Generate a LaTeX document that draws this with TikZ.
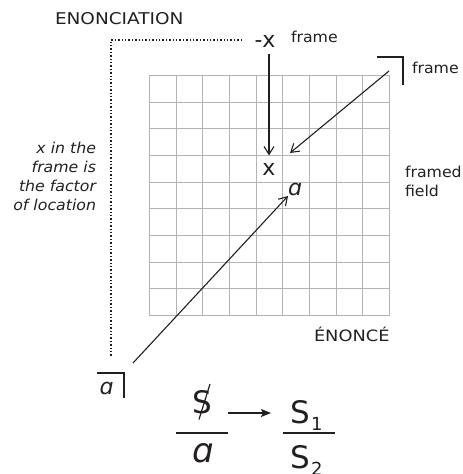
\documentclass[tikz,border=0pt]{standalone}
\usepackage{fontspec}
\setmainfont{DejaVu Sans}[FakeStretch=1.05]
\newfontfamily\capsfont{DejaVu Sans}[FakeStretch=1.14]
\newfontfamily\plainfont{DejaVu Sans}
\usetikzlibrary{arrows.meta,calc}
\definecolor{ink}{HTML}{231F20}
\definecolor{gridgray}{HTML}{B4B4B4}
\begin{document}
\begin{tikzpicture}[x=1pt,y=-1pt,
  every node/.style={inner sep=0pt,outer sep=0pt,text=ink},
  capslbl/.style={font={\capsfont\fontsize{16.2pt}{18pt}\selectfont}},
  smalllbl/.style={font={\fontsize{15pt}{18pt}\selectfont}},
  itallbl/.style={font={\fontsize{15pt}{18pt}\selectfont\itshape}},
  biglbl/.style={font={\plainfont\fontsize{22pt}{24pt}\selectfont}},
  bigital/.style={font={\plainfont\fontsize{22pt}{24pt}\selectfont\itshape}},
  formula/.style={font={\plainfont\fontsize{31pt}{34pt}\selectfont}},
  gridline/.style={draw=gridgray,line width=1.3pt},
  openarrow/.style={draw=ink,line width=1.1pt,-{Straight Barb[length=8pt,width=10pt,line width=1.1pt]}},
  bracket/.style={draw=ink,line width=2pt},
  dotline/.style={draw=ink,line width=1.7pt,dash pattern=on 1.4pt off 2pt}]
\useasboundingbox (0,0) rectangle (463,474);
% grid
\foreach \p in {149.5,176.5,202.5,229.5,256.5,282.5,309.5,336.5,362.5,389.5}{
  \draw[gridline] (\p,75) -- (\p,315);
}
\foreach \q in {75.5,102.5,128.5,155.5,182.5,208.5,235.5,262.5,288.5,315.5}{
  \draw[gridline] (149,\q) -- (390,\q);
}
% labels
\node[capslbl,anchor=base west] (enon) at (55,24) {ENONCIATION};
\node[capslbl,anchor=base east,font={\capsfont\fontsize{15.6pt}{18pt}\selectfont}] (enonce) at (389.5,341) {ÉNONCÉ};
\node[smalllbl,anchor=base west] (frametop) at (291,42) {frame};
\node[smalllbl,anchor=base west] (frameright) at (412,73) {frame};
\node[smalllbl,anchor=base west] (framed) at (405,177) {framed};
\node[smalllbl,anchor=base west] (field) at (405,196) {field};
\node[itallbl,anchor=base east] (l1) at (96,153) {x in the};
\node[itallbl,anchor=base east] (l2) at (96,172) {frame is};
\node[itallbl,anchor=base east] (l3) at (96,191) {the factor};
\node[itallbl,anchor=base east] (l4) at (96,210) {of location};
% dotted frame
\coordinate (dA) at (242,40);
\coordinate (dC) at (111,40);
\coordinate (dB) at (111,357);
\draw[dotline] (dA) -- (dC) -- (dB);
% -x and x
\node[biglbl,anchor=base] (mx) at (265,47) {-x};
\node[biglbl,anchor=base] (gx) at (269,175.5) {x};
\node[bigital,anchor=base west] (ga) at (288,195) {ɑ};
% vertical arrow
\draw[openarrow,shorten <=7pt,shorten >=8pt] (gx.north |- mx.south) -- (gx.north);
% top-right bracket and arrow
\coordinate (brA) at (377,57);
\coordinate (brB) at (403,57);
\coordinate (brC) at (403,85);
\draw[bracket] (brA) -- (brB) -- (brC);
\coordinate (frS) at (389,71);
\coordinate (frT) at (290,153);
\draw[openarrow] (frS) -- (frT);
% bottom-left bracket with a
\coordinate (bbA) at (97,373);
\coordinate (bbB) at (124,373);
\coordinate (bbC) at (124,398);
\draw[bracket] (bbA) -- (bbB) -- (bbC);
\node[bigital,anchor=base west] (ba) at (99.5,394) {ɑ};
\coordinate (aS) at (133,363);
\coordinate (aT) at (288,196);
\draw[openarrow] (aS) -- (aT);
% formula
\node[formula,anchor=base] (bs) at (202,413.5) {S};
\draw[draw=ink,line width=1.2pt] ($(bs.base)+(-3,6)$) -- ($(bs.base)+(8,-29.5)$);
\coordinate (barLa) at (176,433);
\coordinate (barLb) at (228,433);
\draw[draw=ink,line width=1.5pt] (barLa) -- (barLb);
\node[formula,anchor=base,font={\plainfont\fontsize{34pt}{36pt}\selectfont\itshape}] (fa) at (203,462) {ɑ};
\coordinate (arS) at (228,413);
\coordinate (arT) at (271,413);
\draw[draw=ink,line width=1.3pt,-{Stealth[length=10pt,width=8pt,inset=2pt]}] (arS) -- (arT);
\node[formula,anchor=base west] (s1) at (290,423) {S\kern1.5pt\raisebox{-7pt}{\fontsize{18pt}{18pt}\selectfont 1}};
\coordinate (barRa) at (283,433);
\coordinate (barRb) at (335,433);
\draw[draw=ink,line width=1.5pt] (barRa) -- (barRb);
\node[formula,anchor=base west] (s2) at (290,468) {S\kern1.5pt\raisebox{-7pt}{\fontsize{18pt}{18pt}\selectfont 2}};
\end{tikzpicture}
\end{document}
